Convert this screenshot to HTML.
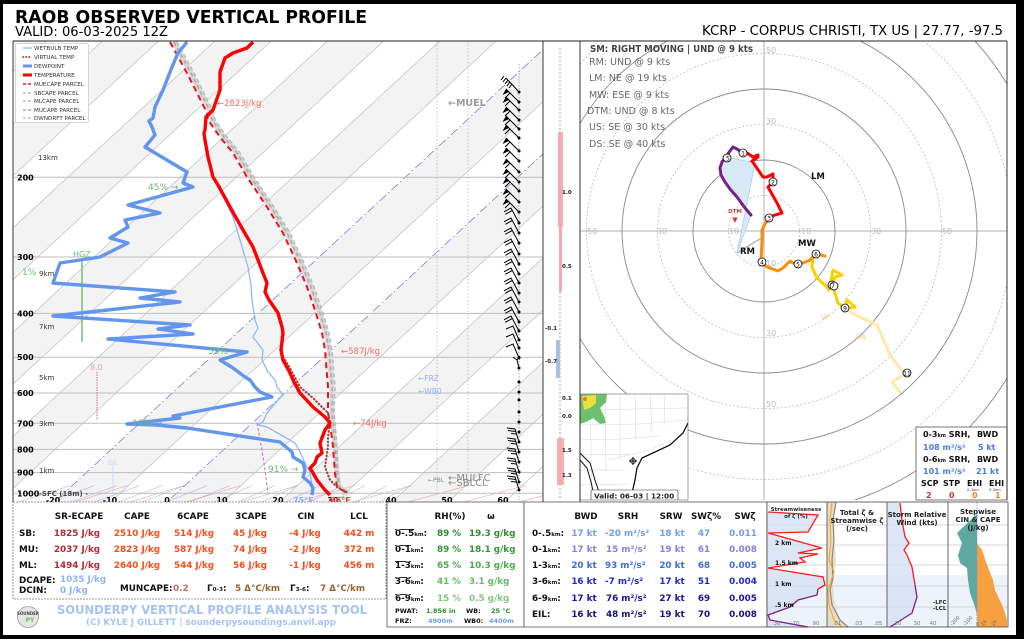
<!DOCTYPE html>
<html><head><meta charset="utf-8">
<style>
html,body{margin:0;padding:0;background:#fff;width:1024px;height:640px;overflow:hidden;position:relative;}
svg{position:absolute;left:0;top:0;display:block;overflow:hidden;font-family:"DejaVu Sans","Liberation Sans",sans-serif;}
.b{font-weight:bold;}
</style></head><body>
<svg width="1024" height="640" viewBox="0 0 1024 640" xmlns="http://www.w3.org/2000/svg">
<defs>
<clipPath id="cs"><rect x="13" y="41" width="530" height="461"/></clipPath>
<clipPath id="ch"><rect x="580" y="41" width="427" height="459"/></clipPath>
<clipPath id="cm"><rect x="580" y="394" width="108" height="106"/></clipPath>
<g id="bP"><path d="M0,0 L-13,-13 M-9,-9 L-14,-4" stroke="#000" stroke-width="1" fill="none"/><path d="M-13,-13 L-10,-10 L-16.5,-7 Z" fill="#000"/></g>
<g id="bF"><path d="M0,0 L-8,-15 L-15,-11.2 M-6.7,-12.5 L-13.7,-8.7" stroke="#000" stroke-width="1" fill="none"/></g>
<g id="b1"><path d="M0,0 L-6,-14 L-13,-11" stroke="#000" stroke-width="1" fill="none"/></g>
<g id="bY"><path d="M0,0 L-2,-8 L-6,-11 M-2,-8 L1,-12" stroke="#000" stroke-width="1" fill="none"/></g>
<g id="bL"><path d="M0,0 L-4,-13 L-12,-14 M-3.4,-10.5 L-11,-11.5 M-2.8,-8 L-8,-8.5" stroke="#000" stroke-width="1" fill="none"/></g>
</defs>
<rect width="1024" height="639" fill="#fff"/>

<!-- HEADER -->
<text x="15" y="23" font-size="17.5" class="b" textLength="352" lengthAdjust="spacingAndGlyphs">RAOB OBSERVED VERTICAL PROFILE</text>
<text x="15" y="36" font-size="13" textLength="153" lengthAdjust="spacingAndGlyphs">VALID: 06-03-2025 12Z</text>
<text x="702" y="35" font-size="13" textLength="301" lengthAdjust="spacingAndGlyphs">KCRP - CORPUS CHRISTI, TX US | 27.77, -97.5</text>

<!-- SKEW-T -->
<g clip-path="url(#cs)">
 <g transform="skewX(-47.2)">
  <g fill="#f3f3f3">
   <rect x="34.16" y="41" width="56.25" height="461"/>
   <rect x="146.66" y="41" width="56.25" height="461"/>
   <rect x="259.16" y="41" width="56.25" height="461"/>
   <rect x="371.66" y="41" width="56.25" height="461"/>
   <rect x="484.16" y="41" width="56.25" height="461"/>
   <rect x="596.66" y="41" width="56.25" height="461"/>
   <rect x="709.16" y="41" width="56.25" height="461"/>
   <rect x="821.66" y="41" width="56.25" height="461"/>
   <rect x="934.16" y="41" width="56.25" height="461"/>
  </g>
  <g stroke="#c2c2c2" stroke-width="1.1">
   <line x1="34.16" y1="41" x2="34.16" y2="502"/><line x1="90.41" y1="41" x2="90.41" y2="502"/>
   <line x1="146.66" y1="41" x2="146.66" y2="502"/><line x1="202.91" y1="41" x2="202.91" y2="502"/>
   <line x1="259.16" y1="41" x2="259.16" y2="502"/><line x1="315.41" y1="41" x2="315.41" y2="502"/>
   <line x1="371.66" y1="41" x2="371.66" y2="502"/><line x1="427.91" y1="41" x2="427.91" y2="502"/>
   <line x1="484.16" y1="41" x2="484.16" y2="502"/><line x1="540.41" y1="41" x2="540.41" y2="502"/>
   <line x1="652.91" y1="41" x2="652.91" y2="502"/>
   <line x1="765.41" y1="41" x2="765.41" y2="502"/><line x1="821.66" y1="41" x2="821.66" y2="502"/>
   <line x1="877.91" y1="41" x2="877.91" y2="502"/><line x1="934.16" y1="41" x2="934.16" y2="502"/>
   <line x1="990.41" y1="41" x2="990.41" y2="502"/><line x1="1046.66" y1="41" x2="1046.66" y2="502"/>
  </g>
  <g stroke="#7272e8" stroke-width="1.1" stroke-dasharray="6,2,1,2">
   <line x1="596.66" y1="41" x2="596.66" y2="502"/>
   <line x1="709.16" y1="41" x2="709.16" y2="502"/>
  </g>
 </g>
 <g id="adiab"></g>
 <!-- pressure lines -->
 <g stroke="#bdbdbd" stroke-width="1">
  <line x1="13" y1="493.3" x2="580" y2="493.3"/><line x1="13" y1="472.6" x2="580" y2="472.6"/>
  <line x1="13" y1="449.4" x2="580" y2="449.4"/><line x1="13" y1="423.3" x2="580" y2="423.3"/>
  <line x1="13" y1="393" x2="580" y2="393"/><line x1="13" y1="357.2" x2="580" y2="357.2"/>
  <line x1="13" y1="313.4" x2="580" y2="313.4"/><line x1="13" y1="257" x2="580" y2="257"/>
  <line x1="13" y1="177.3" x2="580" y2="177.3"/>
 </g>
 <!-- faint verticals -->
 <g stroke="#bbb" stroke-width="0.8" stroke-dasharray="1.5,2">
  <line x1="437" y1="41" x2="437" y2="495"/><line x1="468" y1="41" x2="468" y2="495"/>
 </g>
 <!-- HGZ -->
 <line x1="82" y1="260" x2="82" y2="342" stroke="#7cc47c" stroke-width="1.6"/>
 <!-- 8.0 marker -->
 <line x1="97" y1="372" x2="97" y2="420" stroke="#d06a7a" stroke-width="1" stroke-dasharray="1.5,1"/>
 <line x1="113" y1="463" x2="113" y2="493" stroke="#c8dcf2" stroke-width="1"/>
 <!-- DCAPE parcel -->
 <polyline points="257,423 262,450 265,470 268,493" fill="none" stroke="#b070c0" stroke-width="1" stroke-dasharray="3,2"/>
 <!-- gray parcels -->
 <polyline points="174,42 192,75 211,113 212,120 224,137 237,153 251,177 271,207 287,233 301,263 311,287 319,310 326,333 329,350 332,387 332,413 333,423 335,447 337,473 339,487 349,493" fill="none" stroke="#d8d8d8" stroke-width="5"/>
 <polyline points="174,42 192,75 211,113 212,120 224,137 237,153 251,177 271,207 287,233 301,263 311,287 319,310 326,333 329,350 332,387 332,413 333,423 335,447 337,473 339,487 349,493" fill="none" stroke="#a8a8a8" stroke-width="1.5" stroke-dasharray="4,3"/>
 <polyline points="177,42 195,75 214,113 215,120 227,137 240,153 254,177 274,207 290,233 304,263 314,287 322,310 329,333 332,350 335,387 334,413 335,423 337,447 338,473 340,487" fill="none" stroke="#b8b8b8" stroke-width="1.5" stroke-dasharray="4,3"/>
 <!-- MU parcel -->
 <polyline points="170,42 188,75 207,113 208,120 220,137 233,153 247,177 267,207 283,233 297,263 307,287 315,310 322,333 325,350 328,387 328,413 330,423 333,447 335,473 337,487 347,493" fill="none" stroke="#e8141e" stroke-width="2" stroke-dasharray="6,4"/>
 <!-- wetbulb -->
 <polyline points="218,185 223,195 233,217 240,240 248,267 251,285 252,300 255,320 258,328 253,337 263,350 262,360 268,372 275,380 277,387 283,395 278,400 267,413 263,422 258,425 267,427 295,443 300,452 305,463 310,473 313,490" fill="none" stroke="#86b4f4" stroke-width="1.2"/>
 <!-- dewpoint -->
 <polyline points="187,42 178,53 172,67 163,90 155,107 153,118 149,121 152,127 155,135 145,147 187,172 183,183 193,187 128,205 160,213 125,220 128,227 110,238 128,243 100,257 60,263 53,283 175,292 140,298 180,302 53,316 190,325 158,329 193,334 108,339 247,352 220,360 233,368 245,377 250,380 255,387 260,392 272,397 173,416 180,418 127,424 157,425 187,428 280,442 292,452 293,457 303,463 305,470 303,477 310,483 313,488 312,495" fill="none" stroke="#6495ed" stroke-width="3.4" stroke-linejoin="round"/>
 <!-- virtual temp -->
 <polyline points="281,347 283,357 290,368 300,387 313,398 328,413 330,423 328,437 328,447 326,460 325,467 330,480 337,487 348,493" fill="none" stroke="#a0453e" stroke-width="2.2" stroke-dasharray="0.5,3" stroke-linecap="round"/>
 <!-- temperature -->
 <polyline points="253,42 247,48 233,53 225,58 220,72 220,90 213,110 206,117 205,130 204,133 205,140 208,157 213,177 218,185 230,207 243,230 253,247 258,260 263,273 267,283 265,292 269,300 278,313 282,327 283,333 281,350 283,360 290,373 294,382 300,393 313,407 325,417 330,423 325,430 320,443 322,453 317,457 315,463 310,468 313,473 317,480 325,490 330,495" fill="none" stroke="#ff0000" stroke-width="3.4" stroke-linejoin="round"/>
 <!-- wind barbs -->
 <line x1="519" y1="64" x2="519" y2="500" stroke="#999" stroke-width="0.8" stroke-dasharray="1.5,1.5"/>
 <path d="M519,92 L506,78 M506,78 L503,82 M508,80 L505,84 M510,82 L507,86 M504,76 L501,80 M512,84 L509,88" stroke="#000" stroke-width="1" fill="none"/>
 <use href="#bP" x="519" y="102"/><use href="#bP" x="519" y="110"/><use href="#bP" x="519" y="120"/>
 <use href="#bP" x="519" y="129"/><use href="#bP" x="519" y="138"/><use href="#bP" x="519" y="151"/>
 <use href="#bP" x="519" y="161"/><use href="#bP" x="519" y="172"/><use href="#bP" x="519" y="182"/>
 <use href="#bP" x="519" y="191"/><use href="#bP" x="519" y="202"/><use href="#bP" x="519" y="212"/>
 <use href="#bF" x="519" y="223"/><use href="#bF" x="519" y="233"/><use href="#bF" x="519" y="243"/>
 <use href="#bF" x="519" y="254"/><use href="#bF" x="519" y="264"/><use href="#bF" x="519" y="274"/>
 <use href="#bF" x="519" y="283"/><use href="#bF" x="519" y="293"/><use href="#bF" x="519" y="302"/>
 <use href="#bF" x="519" y="312"/><use href="#bF" x="519" y="322"/><use href="#bF" x="519" y="331"/>
 <use href="#b1" x="519" y="340"/><use href="#b1" x="519" y="348"/><use href="#b1" x="519" y="358"/>
 <use href="#bY" x="519" y="368"/>
 <use href="#bL" x="519" y="442"/><use href="#bL" x="519" y="452"/><use href="#bL" x="519" y="462"/>
 <use href="#bL" x="519" y="472"/><use href="#bL" x="519" y="482"/><use href="#bL" x="519" y="490"/>
 <g fill="#000">
  <circle cx="519" cy="92" r="1.5"/><circle cx="519" cy="102" r="1.5"/><circle cx="519" cy="110" r="1.5"/><circle cx="519" cy="120" r="1.5"/><circle cx="519" cy="129" r="1.5"/><circle cx="519" cy="138" r="1.5"/><circle cx="519" cy="151" r="1.5"/><circle cx="519" cy="161" r="1.5"/><circle cx="519" cy="172" r="1.5"/><circle cx="519" cy="182" r="1.5"/><circle cx="519" cy="191" r="1.5"/><circle cx="519" cy="202" r="1.5"/><circle cx="519" cy="212" r="1.5"/><circle cx="519" cy="223" r="1.5"/><circle cx="519" cy="233" r="1.5"/><circle cx="519" cy="243" r="1.5"/><circle cx="519" cy="254" r="1.5"/><circle cx="519" cy="264" r="1.5"/><circle cx="519" cy="274" r="1.5"/><circle cx="519" cy="283" r="1.5"/><circle cx="519" cy="293" r="1.5"/><circle cx="519" cy="302" r="1.5"/><circle cx="519" cy="312" r="1.5"/><circle cx="519" cy="322" r="1.5"/><circle cx="519" cy="331" r="1.5"/><circle cx="519" cy="340" r="1.5"/><circle cx="519" cy="348" r="1.5"/><circle cx="519" cy="358" r="1.5"/><circle cx="519" cy="368" r="1.5"/><circle cx="519" cy="382" r="1.5"/><circle cx="519" cy="392" r="1.5"/><circle cx="519" cy="400" r="1.5"/><circle cx="519" cy="412" r="1.5"/><circle cx="519" cy="422" r="1.5"/><circle cx="519" cy="432" r="1.5"/><circle cx="519" cy="442" r="1.5"/><circle cx="519" cy="452" r="1.5"/><circle cx="519" cy="462" r="1.5"/><circle cx="519" cy="472" r="1.5"/><circle cx="519" cy="482" r="1.5"/><circle cx="519" cy="490" r="1.5"/>
 </g>
</g>

<!-- skew-T labels -->
<g font-size="8" class="b" fill="#000">
 <text x="17" y="496.3">1000</text><text x="17" y="475.6">900</text><text x="17" y="452.4">800</text>
 <text x="17" y="426.3">700</text><text x="17" y="396">600</text><text x="17" y="360.2">500</text>
 <text x="17" y="316.4">400</text><text x="17" y="260">300</text><text x="17" y="180.3">200</text>
</g>
<g font-size="7" fill="#333">
 <text x="38" y="160">13km</text><text x="39" y="276">9km</text><text x="39" y="329">7km</text>
 <text x="39" y="380">5km</text><text x="39" y="426">3km</text><text x="39" y="473">1km</text>
 <text x="39" y="496" class="b" fill="#444">-SFC (18m) -</text>
</g>
<g font-size="9" fill="#6cbc6c">
 <text x="148" y="190">45% →</text><text x="22" y="275">1%</text><text x="208" y="354">59% →</text>
 <text x="132" y="426">13% →</text><text x="268" y="472">91% →</text>
 <text x="73" y="257" font-size="8">HGZ</text>
</g>
<text x="90" y="370" font-size="8" fill="#e8a0a8">8.0</text>
<text x="108" y="465" font-size="7" fill="#c8dcf2">EIL</text>
<g font-size="8.5" fill="#ff6a6a">
 <text x="217" y="106">←2823J/kg</text><text x="341" y="354">←587J/kg</text><text x="353" y="426">←74J/kg</text>
</g>
<text x="448" y="106" font-size="9.5" class="b" fill="#9a9a9a">←MUEL</text>
<text x="418" y="381" font-size="7.5" fill="#8fb0f0">←FRZ</text>
<text x="418" y="394" font-size="7.5" fill="#8fb0f0">←WB0</text>
<text x="428" y="482" font-size="6" fill="#888">←PBL</text>
<text x="448" y="481" font-size="10" fill="#8a8a8a">←MULFC</text>
<text x="448" y="486" font-size="10" fill="#8a8a8a">←SBLCL</text>

<!-- legend -->
<rect x="15.5" y="43.5" width="73" height="79" fill="#fff" stroke="#ccc" stroke-width="0.8" rx="2"/>
<g stroke-width="1.2" fill="none">
 <line x1="23" y1="48" x2="32" y2="48" stroke="#86b4f4"/>
 <line x1="23" y1="57" x2="32" y2="57" stroke="#a0453e" stroke-width="1.8" stroke-dasharray="0.5,2.5" stroke-linecap="round"/>
 <line x1="23" y1="66" x2="32" y2="66" stroke="#6495ed" stroke-width="3"/>
 <line x1="23" y1="75" x2="32" y2="75" stroke="#ff0000" stroke-width="3"/>
 <line x1="23" y1="84" x2="32" y2="84" stroke="#e8141e" stroke-width="1.6" stroke-dasharray="3,2"/>
 <line x1="23" y1="93" x2="32" y2="93" stroke="#bbb" stroke-width="1.6" stroke-dasharray="3,2"/>
 <line x1="23" y1="101" x2="32" y2="101" stroke="#bbb" stroke-width="1.6" stroke-dasharray="3,2"/>
 <line x1="23" y1="110" x2="32" y2="110" stroke="#aaa" stroke-width="1.6" stroke-dasharray="3,2"/>
 <line x1="23" y1="118" x2="32" y2="118" stroke="#c890d0" stroke-width="1" stroke-dasharray="3,2"/>
</g>
<g font-size="5.6" fill="#333">
 <text x="34" y="50">WETBULB TEMP</text><text x="34" y="59">VIRTUAL TEMP</text><text x="34" y="68">DEWPOINT</text>
 <text x="34" y="77">TEMPERATURE</text><text x="34" y="86">MUECAPE PARCEL</text><text x="34" y="95">SBCAPE PARCEL</text>
 <text x="34" y="103">MLCAPE PARCEL</text><text x="34" y="112">MUCAPE PARCEL</text><text x="34" y="120">DWNDRFT PARCEL</text>
</g>

<!-- small vorticity panel -->
<line x1="560" y1="48" x2="560" y2="500" stroke="#888" stroke-width="0.8" stroke-dasharray="2,2"/>
<rect x="558" y="132" width="5" height="95" fill="#f4a0a0" opacity="0.85"/>
<rect x="559" y="227" width="3" height="65" fill="#f4a0a0" opacity="0.85"/>
<rect x="556" y="340" width="4" height="38" fill="#a8c0e8"/>
<rect x="557" y="438" width="7" height="47" fill="#f4a0a0" opacity="0.85"/>
<g font-size="5.5" class="b" fill="#222">
 <text x="562" y="194">1.0</text><text x="562" y="268">0.5</text><text x="545" y="330">-0.1</text><text x="545" y="363">-0.7</text>
 <text x="562" y="400">0.1</text><text x="562" y="418">0.0</text><text x="562" y="452">1.5</text><text x="562" y="477">1.3</text>
</g>

<!-- bottom temp labels -->
<g font-size="8" class="b" fill="#000" text-anchor="middle">
 <text x="53" y="503">-20</text><text x="110" y="503">-10</text><text x="167" y="503">0</text><text x="222" y="503">10</text>
 <text x="278" y="503">20</text><text x="333" y="503">30</text><text x="391" y="503">40</text><text x="447" y="503">50</text><text x="503" y="503">60</text>
</g>
<text x="293" y="503" font-size="8" class="b" fill="#8fb0f0">75°F</text>
<text x="330" y="503" font-size="8" class="b" fill="#ff3030">86°F</text>

<!-- HODOGRAPH -->
<g clip-path="url(#ch)">
 <g fill="none">
  <circle cx="764" cy="231" r="35.5" stroke="#bbb" stroke-width="0.8" stroke-dasharray="2,2"/>
  <circle cx="764" cy="231" r="71" stroke="#888" stroke-width="0.9"/>
  <circle cx="764" cy="231" r="106.5" stroke="#bbb" stroke-width="0.8" stroke-dasharray="2,2"/>
  <circle cx="764" cy="231" r="142" stroke="#888" stroke-width="0.9"/>
  <circle cx="764" cy="231" r="177.5" stroke="#bbb" stroke-width="0.8" stroke-dasharray="2,2"/>
  <circle cx="764" cy="231" r="213" stroke="#888" stroke-width="0.9"/>
  <circle cx="764" cy="231" r="248.5" stroke="#bbb" stroke-width="0.8" stroke-dasharray="2,2"/>
  <circle cx="764" cy="231" r="284" stroke="#888" stroke-width="0.9"/>
  <circle cx="764" cy="231" r="319.5" stroke="#bbb" stroke-width="0.8" stroke-dasharray="2,2"/>
 </g>
 <line x1="580" y1="231" x2="1007" y2="231" stroke="#999" stroke-width="0.8"/>
 <line x1="764" y1="41" x2="764" y2="500" stroke="#999" stroke-width="0.8"/>
 <g font-size="8" fill="#bbb">
  <text x="587" y="234">50</text><text x="657" y="234">30</text><text x="729" y="234">10</text>
  <text x="801" y="234">10</text><text x="871" y="234">30</text><text x="942" y="234">50</text>
  <text x="766" y="53">50</text><text x="766" y="124">30</text><text x="766" y="266">10</text>
  <text x="766" y="336">30</text><text x="766" y="407">50</text>
 </g>
 <!-- fill -->
 <polygon points="737,253 751,215 745,208 737,197 730,189 725,182 721,175 720,168 722,162 727,157 755,163" fill="#d6eaf6" stroke="#a8d0ec" stroke-width="0.8"/>
 <line x1="737" y1="253" x2="763" y2="237" stroke="#999" stroke-width="1"/>
 <g fill="none" stroke-width="3" stroke-linejoin="round" stroke-linecap="round">
  <polyline points="845,308 850,312 862,318 877,325 890,355 903,372 907,373 900,377 892,382 900,392" stroke="#ffe9a8"/>
  <polyline points="816,254 813,258 812,267 817,278 827,287 829,290 833,270 842,275 835,277 832,285 835,293 838,303 845,308 847,300 855,307 850,308" stroke="#f7d000"/>
  <polyline points="769,218 765,224 762,230 762,240 761,262 767,267 778,271 783,268 790,261 793,263 798,264 803,263 810,260 816,254 825,256" stroke="#ff8c00"/>
  <polyline points="743,153 747,153 753,157 758,155 758,157 752,161 763,177 767,177 773,174 773,182 768,187 777,203 782,213 772,216 769,218" stroke="#ff0000"/>
  <polyline points="751,215 745,208 737,197 730,189 725,182 721,175 720,168 722,162 727,155 733,147 737,149 743,153" stroke="#7a1f8a"/>
 </g>
 <g fill="#fff" stroke="#000" stroke-width="0.8">
  <circle cx="727" cy="158" r="4"/><circle cx="743" cy="153" r="4"/><circle cx="773" cy="182" r="4"/><circle cx="769" cy="218" r="4"/>
  <circle cx="762" cy="262" r="4"/><circle cx="798" cy="264" r="4"/><circle cx="816" cy="254" r="4"/><circle cx="832" cy="285" r="4"/>
  <circle cx="834" cy="286" r="4"/><circle cx="845" cy="308" r="4"/><circle cx="907" cy="373" r="4"/>
 </g>
 <g font-size="6" text-anchor="middle" fill="#000">
  <text x="727" y="160.5">.5</text><text x="743" y="155.5">1</text><text x="773" y="184.5">2</text><text x="769" y="220.5">3</text>
  <text x="762" y="264.5">4</text><text x="798" y="266.5">5</text><text x="816" y="256.5">6</text><text x="833" y="288">7</text>
  <text x="845" y="310.5">9</text><text x="907" y="375.5">11</text>
 </g>
 <text x="735" y="213" font-size="5.5" class="b" fill="#c04040" text-anchor="middle">DTM</text>
 <text x="735" y="222" font-size="7" fill="#c04040" text-anchor="middle">▼</text>
 <g font-size="8.5" class="b" fill="#111">
  <text x="740" y="254">RM</text><text x="811" y="179">LM</text><text x="798" y="246">MW</text>
 </g>
 <text x="821" y="319" font-size="6.5" fill="#f7c070">UP</text>
 <text x="856" y="339" font-size="6.5" fill="#f7c070">DN</text>
 <text x="590" y="52" font-size="9.5" class="b" fill="#444" textLength="163" lengthAdjust="spacingAndGlyphs">SM: RIGHT MOVING | UND @ 9 kts</text>
 <g font-size="9.5" fill="#666">
  <text x="589" y="65">RM: UND @ 9 kts</text>
  <text x="589" y="81">LM: NE @ 19 kts</text>
  <text x="589" y="98">MW: ESE @ 9 kts</text>
  <text x="587" y="114">DTM: UND @ 8 kts</text>
  <text x="589" y="130">US: SE @ 30 kts</text>
  <text x="589" y="147">DS: SE @ 40 kts</text>
 </g>
</g>

<!-- map inset -->
<rect x="580" y="394" width="108" height="106" fill="#fff"/>
<g clip-path="url(#cm)">
 <g stroke="#d4d4d4" stroke-width="0.5" fill="none">
  <path d="M580,410 L688,408 M580,425 L640,424 L688,420 M580,440 L620,439 L660,436 M590,394 L592,500 M605,394 L606,470 M620,394 L620,460 M635,394 L636,440 M650,394 L652,432 M665,394 L664,425 M580,455 L630,454 M580,470 L625,470 M580,485 L628,484 M608,460 L650,450 L670,440"/>
 </g>
 <path d="M580,394 L607,394 L606,402 L600,408 L604,416 L606,423 L600,424 L593,418 L586,422 L580,424 Z" fill="#6cc06c"/>
 <path d="M582,396 L596,395 L596,403 L590,408 L584,410 Z" fill="#e8e040"/>
 <circle cx="585" cy="399" r="2" fill="#ff7030"/>
 <path d="M688,423 L683,433 L670,445 L655,452 L642,458 L637,468 L635,480 L632,493 L630,500" stroke="#111" stroke-width="1.3" fill="none"/>
 <path d="M580,453 L590,463 L595,480 L600,495 L602,500 M580,460 L587,468 L591,482 L595,500" stroke="#111" stroke-width="1" fill="none"/>
 <path d="M629,461 L637,461 M633,457 L633,465" stroke="#000" stroke-width="1"/>
 <circle cx="633" cy="461" r="2.5" fill="none" stroke="#000" stroke-width="0.8"/>
 <rect x="591" y="490" width="87" height="11" fill="#fff" stroke="#333" stroke-width="0.6" rx="1"/>
 <text x="594" y="498.5" font-size="7.3" class="b" fill="#222">Valid: 06-03 | 12:00</text>
</g>
<rect x="580" y="394" width="108" height="106" fill="none" stroke="#666" stroke-width="0.6"/>

<!-- SRH box -->
<rect x="916" y="427" width="91" height="73" fill="#fff" stroke="#555" stroke-width="0.8"/>
<g font-size="8" class="b">
 <text x="923" y="437" fill="#111">0-3<tspan font-size="5">km</tspan> SRH,</text><text x="977" y="437" fill="#111">BWD</text>
 <text x="923" y="450" fill="#4a7ae6">108 m²/s²</text><text x="978" y="450" fill="#4a7ae6">5 kt</text>
 <text x="923" y="462" fill="#111">0-6<tspan font-size="5">km</tspan> SRH,</text><text x="977" y="462" fill="#111">BWD</text>
 <text x="923" y="474" fill="#4a7ae6">101 m²/s²</text><text x="976" y="474" fill="#4a7ae6">21 kt</text>
 <text x="921" y="486" fill="#111">SCP</text><text x="943" y="486" fill="#111">STP</text><text x="967" y="486" fill="#111">EHI</text><text x="989" y="486" fill="#111">EHI</text>
 <text x="926" y="498" fill="#d03030">2</text><text x="949" y="498" fill="#d03030">0</text><text x="972" y="498" fill="#ff7a20">0</text><text x="995" y="498" fill="#ff7a20">1</text>
</g>
<g font-size="3.5" fill="#333"><text x="967" y="491">0–1km</text><text x="989" y="491">0–3km</text></g>

<!-- frames -->
<g stroke="#222" stroke-width="0.9" fill="none">
 <line x1="13" y1="41" x2="1007" y2="41"/>
 <line x1="13" y1="41" x2="13" y2="502"/>
 <line x1="543" y1="41" x2="543" y2="502"/>
 <line x1="580" y1="41" x2="580" y2="502"/>
 <line x1="1007" y1="41" x2="1007" y2="500"/>
</g>

<!-- BOTTOM LEFT TABLE -->
<rect x="13" y="502" width="373" height="97" fill="#fff" stroke="#777" stroke-width="0.8" stroke-dasharray="2,1"/>
<g font-size="8.8" class="b" text-anchor="middle" fill="#111">
 <text x="79" y="519">SR-ECAPE</text><text x="137" y="519">CAPE</text><text x="193" y="519">6CAPE</text>
 <text x="251" y="519">3CAPE</text><text x="306" y="519">CIN</text><text x="359" y="519">LCL</text>
</g>
<g font-size="8.8" class="b" fill="#111">
 <text x="19" y="536">SB:</text><text x="19" y="552">MU:</text><text x="19" y="568">ML:</text>
</g>
<g font-size="8.8" class="b" text-anchor="middle">
 <g fill="#b8282e"><text x="77" y="536">1825 J/kg</text><text x="77" y="552">2037 J/kg</text><text x="77" y="568">1494 J/kg</text></g>
 <g fill="#ff4a14">
  <text x="137" y="536">2510 J/kg</text><text x="194" y="536">514 J/kg</text><text x="250" y="536">45 J/kg</text><text x="305" y="536">-4 J/kg</text><text x="359" y="536">442 m</text>
  <text x="137" y="552">2823 J/kg</text><text x="194" y="552">587 J/kg</text><text x="250" y="552">74 J/kg</text><text x="305" y="552">-2 J/kg</text><text x="359" y="552">372 m</text>
  <text x="137" y="568">2640 J/kg</text><text x="194" y="568">544 J/kg</text><text x="250" y="568">56 J/kg</text><text x="305" y="568">-1 J/kg</text><text x="359" y="568">456 m</text>
 </g>
</g>
<g font-size="8.8" class="b">
 <text x="19" y="583" fill="#111">DCAPE:</text><text x="60" y="582" fill="#8fb4f2">1035 J/kg</text>
 <text x="19" y="593" fill="#111">DCIN:</text><text x="60" y="593" fill="#8fb4f2">0 J/kg</text>
 <text x="120" y="591" fill="#111">MUNCAPE:</text><text x="173" y="591" fill="#c07070">0.2</text>
 <text x="207" y="591" fill="#111">Γ<tspan font-size="5.5">0–3</tspan>:</text><text x="235" y="591" fill="#9a6432">5 Δ°C/km</text>
 <text x="290" y="591" fill="#111">Γ<tspan font-size="5.5">3–6</tspan>:</text><text x="320" y="591" fill="#9a6432">7 Δ°C/km</text>
</g>
<circle cx="28" cy="617" r="10.5" fill="#e6e6e6" stroke="#999" stroke-width="0.8"/>
<text x="28" y="615" font-size="4" class="b" fill="#444" text-anchor="middle">SOUNDER</text>
<text x="30" y="622" font-size="6" class="b" fill="#6fbf4f" text-anchor="middle">PY</text>
<text x="57" y="614" font-size="12.5" class="b" fill="#a6c3f2" textLength="310" lengthAdjust="spacingAndGlyphs">SOUNDERPY VERTICAL PROFILE ANALYSIS TOOL</text>
<text x="86" y="625" font-size="9" class="b" fill="#a6c3f2" textLength="250" lengthAdjust="spacingAndGlyphs">(C) KYLE J GILLETT | sounderpysoundings.anvil.app</text>

<!-- MIDDLE TABLES -->
<rect x="387" y="502" width="137" height="125" fill="#fff" stroke="#555" stroke-width="0.8"/>
<rect x="524" y="502" width="243" height="125" fill="#fff" stroke="#555" stroke-width="0.8"/>
<g font-size="8.8" class="b" text-anchor="middle" fill="#111">
 <text x="450" y="519">RH(%)</text><text x="491" y="519">ω</text>
</g>
<g font-size="8.8" class="b" fill="#111">
 <text x="395" y="536"><tspan text-decoration="overline">0-.5</tspan><tspan font-size="5.5">km</tspan>:</text>
 <text x="395" y="552"><tspan text-decoration="overline">0-1</tspan><tspan font-size="5.5">km</tspan>:</text>
 <text x="395" y="568"><tspan text-decoration="overline">1-3</tspan><tspan font-size="5.5">km</tspan>:</text>
 <text x="395" y="584"><tspan text-decoration="overline">3-6</tspan><tspan font-size="5.5">km</tspan>:</text>
 <text x="395" y="601"><tspan text-decoration="overline">6-9</tspan><tspan font-size="5.5">km</tspan>:</text>
</g>
<g font-size="8.8" class="b">
 <text x="437" y="536" fill="#2e8b2e">89 %</text><text x="469" y="536" fill="#2e8b2e">19.3 g/kg</text>
 <text x="437" y="552" fill="#379637">89 %</text><text x="469" y="552" fill="#379637">18.1 g/kg</text>
 <text x="437" y="568" fill="#4caa4c">65 %</text><text x="469" y="568" fill="#4caa4c">10.3 g/kg</text>
 <text x="437" y="584" fill="#66ba66">41 %</text><text x="469" y="584" fill="#66ba66">3.1 g/kg</text>
 <text x="437" y="601" fill="#82c882">15 %</text><text x="469" y="601" fill="#82c882">0.5 g/kg</text>
</g>
<g font-size="6.5" class="b">
 <text x="395" y="613" fill="#111">PWAT:</text><text x="426" y="613" fill="#2e8b2e">1.856 in</text>
 <text x="466" y="613" fill="#111">WB:</text><text x="491" y="613" fill="#2e8b2e">25 °C</text>
 <text x="395" y="623" fill="#111">FRZ:</text><text x="428" y="623" fill="#6f9ceb">4900m</text>
 <text x="464" y="623" fill="#111">WB0:</text><text x="489" y="623" fill="#6f9ceb">4400m</text>
</g>
<g font-size="8.8" class="b" text-anchor="middle" fill="#111">
 <text x="586" y="519">BWD</text><text x="628" y="519">SRH</text><text x="671" y="519">SRW</text><text x="706" y="519">SWζ%</text><text x="745" y="519">SWζ</text>
</g>
<g font-size="8.8" class="b" fill="#111">
 <text x="532" y="536">0-.5<tspan font-size="5.5">km</tspan>:</text>
 <text x="532" y="552">0-1<tspan font-size="5.5">km</tspan>:</text>
 <text x="532" y="568">1-3<tspan font-size="5.5">km</tspan>:</text>
 <text x="532" y="584">3-6<tspan font-size="5.5">km</tspan>:</text>
 <text x="532" y="601">6-9<tspan font-size="5.5">km</tspan>:</text>
 <text x="532" y="617">EIL:</text>
</g>
<g font-size="8.8" class="b">
 <g fill="#6f9ceb"><text x="584" y="536" text-anchor="middle">17 kt</text><text x="605" y="536">-20 m²/s²</text><text x="672" y="536" text-anchor="middle">18 kt</text><text x="704" y="536" text-anchor="middle">47</text><text x="743" y="536" text-anchor="middle">0.011</text></g>
 <g fill="#8480e4"><text x="584" y="552" text-anchor="middle">17 kt</text><text x="606" y="552">15 m²/s²</text><text x="672" y="552" text-anchor="middle">19 kt</text><text x="704" y="552" text-anchor="middle">61</text><text x="743" y="552" text-anchor="middle">0.008</text></g>
 <g fill="#4169e1"><text x="584" y="568" text-anchor="middle">20 kt</text><text x="605" y="568">93 m²/s²</text><text x="672" y="568" text-anchor="middle">20 kt</text><text x="704" y="568" text-anchor="middle">68</text><text x="743" y="568" text-anchor="middle">0.005</text></g>
 <g fill="#1c28d0"><text x="584" y="584" text-anchor="middle">16 kt</text><text x="605" y="584">-7 m²/s²</text><text x="672" y="584" text-anchor="middle">17 kt</text><text x="704" y="584" text-anchor="middle">51</text><text x="743" y="584" text-anchor="middle">0.004</text></g>
 <g fill="#1414a8"><text x="584" y="601" text-anchor="middle">17 kt</text><text x="606" y="601">76 m²/s²</text><text x="672" y="601" text-anchor="middle">27 kt</text><text x="704" y="601" text-anchor="middle">69</text><text x="743" y="601" text-anchor="middle">0.005</text></g>
 <g fill="#12127a"><text x="584" y="617" text-anchor="middle">16 kt</text><text x="606" y="617">48 m²/s²</text><text x="672" y="617" text-anchor="middle">19 kt</text><text x="704" y="617" text-anchor="middle">70</text><text x="743" y="617" text-anchor="middle">0.008</text></g>
</g>

<!-- BOTTOM RIGHT PANELS -->
<rect x="767" y="502" width="241" height="125" fill="#fff"/>
<rect x="767" y="575" width="241" height="52" fill="#edf3fa"/>
<g stroke="#c8c8c8" stroke-width="0.7">
 <line x1="767" y1="525" x2="1008" y2="525"/><line x1="767" y1="545" x2="1008" y2="545"/>
 <line x1="767" y1="565" x2="1008" y2="565"/><line x1="767" y1="586" x2="1008" y2="586"/>
 <line x1="767" y1="607" x2="1008" y2="607"/>
</g>
<!-- panel1 -->
<polygon points="768,512 818,515 808,532 768,533 822,548 798,553 818,554 800,558 805,562 768,568 823,577 825,585 818,589 817,595 798,600 790,607 768,615 770,620 808,627 767,627 767,512" fill="#d4e0f2" opacity="0.8"/>
<polyline points="768,512 818,515 808,532 768,533 822,548 798,553 818,554 800,558 805,562 768,568 823,577 825,585 818,589" fill="none" stroke="#ff1a1a" stroke-width="1.3"/>
<polyline points="818,589 817,595 798,600 790,607 768,615 770,620 808,627" fill="none" stroke="#7a1f8a" stroke-width="1.3"/>
<g font-size="5.5" class="b" fill="#222" text-anchor="middle"><text x="796" y="511">Streamwiseness</text><text x="796" y="518">of ζ (%)</text></g>
<g font-size="6" class="b" fill="#111"><text x="775" y="545">2 km</text><text x="775" y="565">1.5 km</text><text x="775" y="586">1 km</text><text x="775" y="607">.5 km</text></g>
<g font-size="5.5" fill="#777" text-anchor="middle"><text x="777" y="625">30</text><text x="796" y="625">70</text><text x="816" y="625">90</text></g>
<!-- panel2 -->
<polygon points="827,502 835,502 833,530 836,560 833,580 834,600 840,620 847,627 827,627" fill="#e8dcc4"/>
<polyline points="836,502 833,520 834,540 832,560 833,578 830,590 832,605 840,620 848,627" fill="none" stroke="#888" stroke-width="1.2"/>
<polyline points="832,502 830,520 831,540 829,560 834,572 828,590 829,605 834,620 842,627" fill="none" stroke="#f7a020" stroke-width="1"/>
<g font-size="7" class="b" fill="#222" text-anchor="middle"><text x="857" y="515">Total ζ &amp;</text><text x="857" y="523">Streamwise ζ</text><text x="857" y="531">(/sec)</text></g>
<g font-size="5.5" fill="#777" text-anchor="middle"><text x="837" y="625">.01</text><text x="858" y="625">.03</text><text x="878" y="625">.05</text></g>
<!-- panel3 -->
<polygon points="887,502 900,503 902,520 905,537 909,543 904,550 907,555 912,567 915,585 917,597 912,613 898,622 890,627 887,627" fill="#d4e0f2" opacity="0.8"/>
<polyline points="900,503 902,520 905,537 909,543 904,550 907,555 912,567 915,585" fill="none" stroke="#ff1a1a" stroke-width="1.3"/>
<polyline points="915,585 917,597 912,613 898,622 890,627" fill="none" stroke="#7a1f8a" stroke-width="1.3"/>
<g font-size="7" class="b" fill="#222" text-anchor="middle"><text x="917" y="517">Storm Relative</text><text x="917" y="525">Wind (kts)</text></g>
<g font-size="5.5" class="b" fill="#222"><text x="933" y="604">-LFC</text><text x="933" y="610">-LCL</text></g>
<g font-size="5.5" fill="#777" text-anchor="middle"><text x="898" y="625">20</text><text x="917" y="625">30</text><text x="933" y="625">40</text></g>
<!-- panel4 -->
<polygon points="978,513 957,533 962,543 958,555 960,563 967,568 968,580 970,593 975,607 977,615 977,513" fill="#5fa8a2"/>
<polygon points="977,543 982,550 987,565 993,580 995,590 1003,607 1007,620 1007,627 977,627" fill="#f7a040"/>
<line x1="977" y1="502" x2="977" y2="627" stroke="#6f9ceb" stroke-width="0.8" stroke-dasharray="1.5,1"/>
<g font-size="7" class="b" fill="#222" text-anchor="middle"><text x="978" y="514">Stepwise</text><text x="978" y="522">CIN &amp; CAPE</text><text x="978" y="530">(J/kg)</text></g>
<g font-size="5" fill="#666"><text x="952" y="626" transform="rotate(-45 952 626)">-200</text><text x="965" y="626" transform="rotate(-45 965 626)">-100</text><text x="976" y="626">0</text><text x="983" y="626" transform="rotate(-45 983 626)">1k</text><text x="993" y="626" transform="rotate(-45 993 626)">2k</text></g>
<g stroke="#444" stroke-width="0.8" fill="none">
 <rect x="767" y="502" width="241" height="125"/>
 <line x1="827" y1="502" x2="827" y2="627"/><line x1="887" y1="502" x2="887" y2="627"/><line x1="948" y1="502" x2="948" y2="627"/>
</g>

<!-- outer black frame -->
<rect x="0" y="0" width="1024" height="4" fill="#000"/>
<rect x="0" y="0" width="3" height="639" fill="#000"/>
<rect x="1016" y="0" width="8" height="639" fill="#000"/>
<rect x="0" y="635" width="1024" height="4" fill="#000"/>
</svg>
<script>
(function(){
 var g=document.getElementById('adiab'); var ns='http://www.w3.org/2000/svg';
 function Y(p){return 493.3-196.3*Math.log(p/1000);}
 function X(T,p){return 167+5.625*T+1.08*(502-Y(p));}
 function add(pts,col,op){var s='';for(var i=0;i<pts.length;i++){s+=(i?'L':'M')+pts[i][0].toFixed(1)+','+pts[i][1].toFixed(1);}
  var e=document.createElementNS(ns,'path');e.setAttribute('d',s);e.setAttribute('fill','none');e.setAttribute('stroke',col);
  e.setAttribute('stroke-width','0.7');e.setAttribute('opacity',op);g.appendChild(e);}
 for(var th=240;th<=500;th+=10){var pts=[];for(var p=1040;p>=100;p-=25){var T=th*Math.pow(p/1000,0.2857)-273.15;pts.push([X(T,p),Y(p)]);}add(pts,'#e88a8a','0.7');}
 for(var T0=-16;T0<=40;T0+=4){var pts=[];var T=T0+273.15;for(var p=1040;p>=100;p-=5){pts.push([X(T-273.15,p),Y(p)]);
  var es=6.112*Math.exp(17.67*(T-273.15)/(T-29.65));var r=0.622*es/Math.max(p-es,1);
  var d=(287*T+2.5e6*r)/(1005+2.5e6*2.5e6*r*0.622/(287*T*T))/p;T-=d*5;}add(pts,'#8c8ce6','0.55');}
})();
</script>
</body></html>
